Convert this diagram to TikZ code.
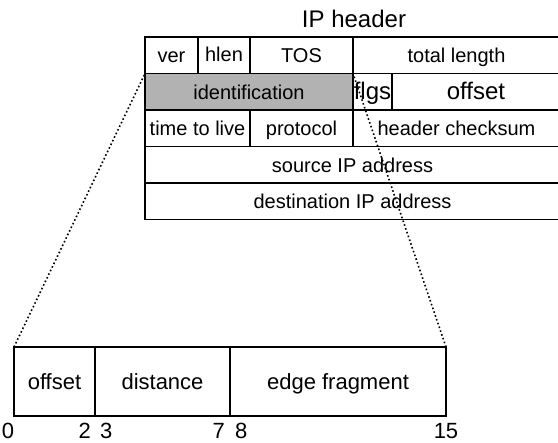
\documentclass[tikz,border=0pt]{standalone}
\usepackage{fontspec}
\setmainfont{Liberation Sans}
\definecolor{idgray}{RGB}{178,178,178}
\begin{document}
\begin{tikzpicture}[x=1pt,y=-1pt,
  cell/.style={draw, line width=1.5pt, rectangle, inner sep=0pt, outer sep=0pt,
    minimum height=36.5pt, text height=15pt, text depth=0pt,
    font=\fontsize{20}{24}\selectfont},
  bigcell/.style={cell, font=\fontsize{24}{28}\selectfont, text height=16pt},
  fcell/.style={draw, line width=1.5pt, rectangle, inner sep=0pt, outer sep=0pt,
    minimum height=69pt, text height=16pt, text depth=0pt,
    font=\fontsize{22}{26}\selectfont},
  num/.style={inner sep=0pt, anchor=base, font=\fontsize{22}{26}\selectfont},
  zoomline/.style={line width=1.6pt, dash pattern=on 1.6pt off 2.4pt}]
\useasboundingbox (0,0) rectangle (558,443);
\begin{scope}
\clip (0,0) rectangle (558,443);
% title
\node[inner sep=0pt, anchor=base, font=\fontsize{24}{28}\selectfont] (title) at (354,28) {IP header};
% row 1
\node[cell, minimum width=53pt] (ver) at (171.5,55.25) {ver};
\node[cell, minimum width=52pt, text height=12pt] (hlen) at (224,55.25) {hlen};
\node[cell, minimum width=103pt] (tos) at (301.5,55.25) {TOS};
\node[cell, minimum width=207pt] (total) at (456.5,55.25) {total length};
% row 2
\node[cell, fill=idgray, minimum width=208pt] (ident) at (249,91.75) {identification};
\node[bigcell, minimum width=39pt] (flgs) at (372.5,91.75) {flgs};
\node[bigcell, minimum width=168pt] (offset) at (476,91.75) {offset};
% row 3
\node[cell, minimum width=105pt] (ttl) at (197.5,128.25) {time to live};
\node[cell, minimum width=103pt] (proto) at (301.5,128.25) {protocol};
\node[cell, minimum width=207pt] (chk) at (456.5,128.25) {header checksum};
% row 4, 5
\node[cell, minimum width=415pt] (src) at (352.5,164.75) {source IP address};
\node[cell, minimum width=415pt] (dst) at (352.5,201.25) {destination IP address};
% bottom field
\node[fcell, minimum width=81pt] (foff) at (54.5,381.5) {offset};
\node[fcell, minimum width=135pt] (fdist) at (162.5,381.5) {distance};
\node[fcell, minimum width=216pt] (fedge) at (338,381.5) {edge fragment};
% bit numbers
\node[num] (n0) at (8,438.5) {0};
\node[num, anchor=base east] (n2) at (91,438.5) {2};
\node[num, anchor=base west] (n3) at (100,438.5) {3};
\node[num, anchor=base east] (n7) at (225,438.5) {7};
\node[num, anchor=base west] (n8) at (235,438.5) {8};
\node[num] (n15) at (446,438.5) {15};
% zoom lines
\draw[zoomline] (foff.north west) -- (ident.north west);
\draw[zoomline] (fedge.north east) -- (ident.north east);
\end{scope}
\end{tikzpicture}
\end{document}
